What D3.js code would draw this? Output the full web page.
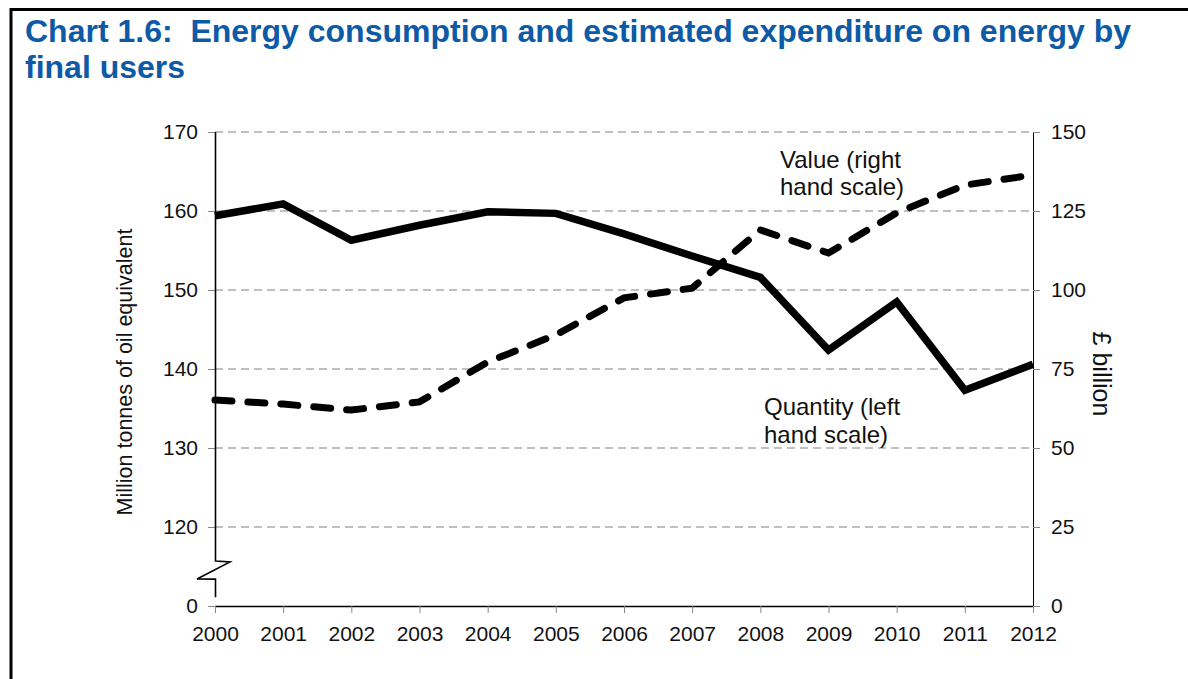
<!DOCTYPE html>
<html>
<head>
<meta charset="utf-8">
<script src="https://cdn.jsdelivr.net/npm/d3@7"></script>
<style>
  body { margin: 0; background: #fff; overflow: hidden; }
  svg { display: block; }
  text { font-family: "Liberation Sans", Arial, sans-serif; }
</style>
</head>
<body>
<div id="chart"></div>
<script>
var width = 1188
var height = 679

// data
var years = [2000, 2001, 2002, 2003, 2004, 2005, 2006, 2007, 2008, 2009, 2010, 2011, 2012]
var quantity = [159.4, 160.9, 156.3, 158.2, 159.9, 159.7, 157.1, 154.3, 151.6, 142.4, 148.5, 137.3, 140.6]
var value = [65.2, 63.9, 62.0, 64.6, 77.2, 85.8, 97.5, 100.6, 119.0, 111.7, 124.4, 133.2, 136.4]
var leftTicks = [110, 120, 130, 140, 150, 160, 170]
var leftTickLabels = ["0", "120", "130", "140", "150", "160", "170"]
var rightTicks = [0, 25, 50, 75, 100, 125, 150]

var svg = d3.select("#chart").append("svg")
    .attr("width", width)
    .attr("height", height)

const margin = {top: 132, right: 155, bottom: 73, left: 215}
const innerWidth = width - margin.left - margin.right
const innerHeight = height - margin.top - margin.bottom

// frame
svg.append("path")
    .attr("d", `M11,${height} V9.5 H${width}`)
    .attr("fill", "none")
    .attr("stroke", "black")
    .attr("stroke-width", 3)

svg.append("text")
    .attr("x", 25).attr("y", 42)
    .attr("font-size", 32).attr("font-weight", "bold")
    .attr("fill", "#0d5aa6")
    .attr("xml:space", "preserve")
    .text("Chart 1.6:  Energy consumption and estimated expenditure on energy by")
svg.append("text")
    .attr("x", 25).attr("y", 78)
    .attr("font-size", 32).attr("font-weight", "bold")
    .attr("fill", "#0d5aa6")
    .text("final users")

const xScale = d3.scalePoint().domain(years).range([0, innerWidth])
const yLeft = d3.scaleLinear().domain([110, 170]).range([innerHeight, 0])
const yRight = d3.scaleLinear().domain([0, 150]).range([innerHeight, 0])

const g = svg.append("g")
    .attr("transform", `translate(${margin.left}, ${margin.top})`)

// gridlines
g.append("g").selectAll("line")
    .data(leftTicks.slice(1))
    .join("line")
    .attr("x1", 0).attr("x2", innerWidth)
    .attr("y1", d => yLeft(d)).attr("y2", d => yLeft(d))
    .attr("stroke", "#c0c0c0")
    .attr("stroke-width", 2)
    .attr("stroke-dasharray", "8,5")

// left axis
const yAxis = d3.axisLeft(yLeft)
    .tickValues(leftTicks)
    .tickSize(7)
    .tickPadding(10)
    .tickFormat((d, i) => leftTickLabels[i])
const yAxisG = g.append("g").call(yAxis)
yAxisG.select(".domain").remove()
yAxisG.selectAll(".tick line").attr("stroke", "#888")
yAxisG.selectAll("text").attr("font-size", 21).attr("fill", "#111")

// left axis line with break
const brTop = yLeft(115.7), brBot = yLeft(113.4)
g.append("path")
    .attr("d", `M0.5,0 V${brTop} L15,${brTop + 1} L-18,${brTop + 18} L0.5,${brBot} V${yLeft(111.1)}`)
    .attr("fill", "none")
    .attr("stroke", "black")
    .attr("stroke-width", 1.6)

// right axis
const y2Axis = d3.axisRight(yRight)
    .tickValues(rightTicks)
    .tickSize(7)
    .tickPadding(11)
const y2AxisG = g.append("g")
    .attr("transform", `translate(${innerWidth}, 0)`)
    .call(y2Axis)
y2AxisG.select(".domain").attr("stroke", "black").attr("d", `M0.5,0V${innerHeight}`)
y2AxisG.selectAll(".tick line").attr("stroke", "#888")
y2AxisG.selectAll("text").attr("font-size", 21).attr("fill", "#111")

// x axis
const xAxis = d3.axisBottom(xScale).tickSize(7).tickPadding(13)
const xAxisG = g.append("g")
    .attr("transform", `translate(0, ${innerHeight})`)
    .call(xAxis)
xAxisG.select(".domain").attr("stroke", "black").attr("stroke-width", 1.5).attr("d", `M0,0.5H${innerWidth}`)
xAxisG.selectAll(".tick line").attr("stroke", "#888")
xAxisG.selectAll("text").attr("font-size", 21).attr("fill", "#111")

// axis titles
svg.append("text")
    .attr("transform", `translate(132, 372) rotate(-90)`)
    .attr("text-anchor", "middle")
    .attr("font-size", 21.5)
    .attr("fill", "#111")
    .text("Million tonnes of oil equivalent")

svg.append("text")
    .attr("transform", `translate(1093, 374) rotate(90)`)
    .attr("text-anchor", "middle")
    .attr("font-size", 25)
    .attr("fill", "#111")
    .text("£ billion")

// lines
const quantityLine = d3.line()
    .x((d, i) => xScale(years[i]))
    .y(d => yLeft(d))
const valueLine = d3.line()
    .x((d, i) => xScale(years[i]))
    .y(d => yRight(d))

g.append("path")
    .attr("d", valueLine(value))
    .attr("fill", "none")
    .attr("stroke", "black")
    .attr("stroke-width", 7)
    .attr("stroke-linecap", "round")
    .attr("stroke-dasharray", "17,16")

g.append("path")
    .attr("d", quantityLine(quantity))
    .attr("fill", "none")
    .attr("stroke", "black")
    .attr("stroke-width", 7.5)

// annotations
const notes = [
    {x: 780, y: 168, t: "Value (right"},
    {x: 780, y: 195, t: "hand scale)"},
    {x: 764, y: 415, t: "Quantity (left"},
    {x: 764, y: 443, t: "hand scale)"}
]
svg.selectAll(".note")
    .data(notes)
    .join("text")
    .attr("class", "note")
    .attr("x", d => d.x).attr("y", d => d.y)
    .attr("font-size", 24)
    .attr("fill", "#111")
    .text(d => d.t)
</script>
</body>
</html>
